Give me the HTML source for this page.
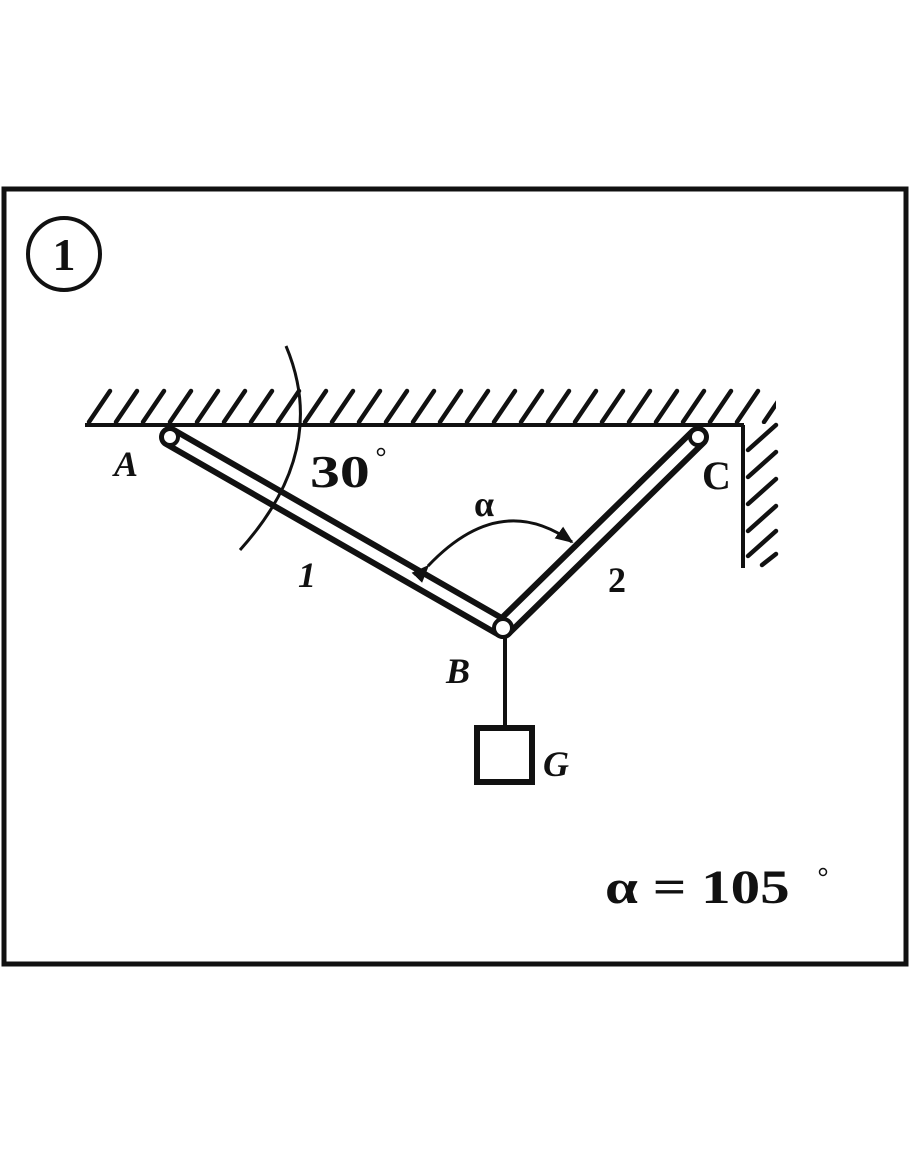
<!DOCTYPE html>
<html><head><style>body{margin:0;background:#fff}svg{display:block}</style></head><body>
<svg width="910" height="1155" viewBox="0 0 910 1155" xmlns="http://www.w3.org/2000/svg">
<defs><pattern id="h" patternUnits="userSpaceOnUse" x="86" y="388" width="27" height="36"><line x1="3" y1="34" x2="24" y2="3" stroke="#111" stroke-width="4.5" stroke-linecap="round"/></pattern>
<marker id="ar" viewBox="0 0 10 10" refX="9" refY="5" markerWidth="6" markerHeight="6" orient="auto"><path d="M0,1 L10,5 L0,9z" fill="#111"/></marker></defs>
<rect x="4" y="189" width="902" height="775" fill="none" stroke="#111" stroke-width="5"/>
<circle cx="64" cy="254" r="36" fill="none" stroke="#111" stroke-width="4"/>
<text x="64" y="270" font-family="Liberation Serif,serif" font-weight="bold" font-size="46" text-anchor="middle" fill="#111">1</text>
<rect x="86" y="388" width="690" height="36" fill="url(#h)"/>
<line x1="85" y1="425" x2="744" y2="425" stroke="#111" stroke-width="4"/>
<line x1="743" y1="425" x2="743" y2="568" stroke="#111" stroke-width="4"/>
<g stroke="#111" stroke-width="4.5" stroke-linecap="round">
<line x1="748" y1="450" x2="776" y2="425"/><line x1="748" y1="477" x2="776" y2="452"/><line x1="748" y1="504" x2="776" y2="479"/><line x1="748" y1="531" x2="776" y2="506"/><line x1="748" y1="556" x2="776" y2="531"/><line x1="762" y1="565" x2="776" y2="554"/>
</g>
<g stroke="#111" stroke-width="22" stroke-linecap="round"><line x1="170" y1="437" x2="503" y2="628"/><line x1="698" y1="437" x2="503" y2="628"/></g>
<g stroke="#fff" stroke-width="10" stroke-linecap="round"><line x1="170" y1="437" x2="503" y2="628"/><line x1="698" y1="437" x2="503" y2="628"/></g>
<g fill="#fff" stroke="#111" stroke-width="4"><circle cx="170" cy="437" r="8"/><circle cx="698" cy="437" r="8"/><circle cx="503" cy="628" r="9"/></g>
<path d="M286 346 Q330 450 240 550" fill="none" stroke="#111" stroke-width="3"/>
<path d="M428 566 Q500 490 572 542" fill="none" stroke="#111" stroke-width="3" marker-start="url(#ar)" marker-end="url(#ar)"/>
<line x1="505" y1="636" x2="505" y2="728" stroke="#111" stroke-width="4"/>
<rect x="477" y="728" width="55" height="54" fill="none" stroke="#111" stroke-width="6"/>
<g font-family="Liberation Serif,serif" font-weight="bold" fill="#111">
<text x="114" y="476" font-size="36" font-style="italic">A</text>
<text transform="translate(310,487) scale(1.3,1)" font-size="46">30</text>
<circle cx="381" cy="452" r="3.5" fill="none" stroke="#111" stroke-width="1.5"/>
<text x="474" y="516" font-size="36">α</text>
<text x="298" y="587" font-size="36" font-style="italic">1</text>
<text x="608" y="592" font-size="36">2</text>
<text x="702" y="489" font-size="40">C</text>
<text x="446" y="683" font-size="36" font-style="italic">B</text>
<text x="543" y="776" font-size="36" font-style="italic">G</text>
<text transform="translate(605,903) scale(1.23,1)" font-size="48">α = 105</text>
<circle cx="823" cy="872" r="3.5" fill="none" stroke="#111" stroke-width="1.5"/>
</g>
</svg>
</body></html>
